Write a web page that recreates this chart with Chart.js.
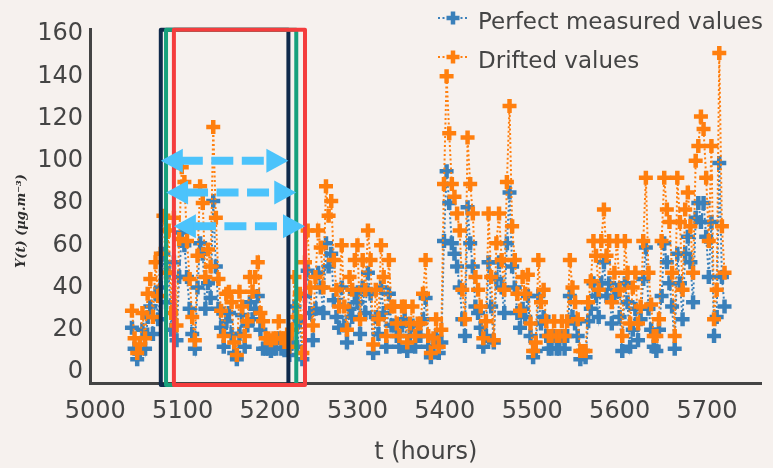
<!DOCTYPE html>
<html>
<head>
<meta charset="utf-8">
<script src="https://cdn.jsdelivr.net/npm/chart.js@4.4.1/dist/chart.umd.min.js"></script>
<style>
  html, body { margin: 0; padding: 0; background: #f6f1ee; }
  #wrap { width: 773px; height: 468px; }
</style>
</head>
<body>
<div id="wrap"><canvas id="chart" width="773" height="468"></canvas></div>
<script>
// Hourly concentration record, sampled every few hours
const START_HOUR = 5042;
const STEP_HOURS = 3;

const perfectValues = [
  21, 11, 6, 9, 20, 11, 26, 31, 18, 37,
  25, 40, 56, 33, 47, 20, 52, 15, 45, 66,
  60, 45, 30, 18, 11, 40, 61, 56, 30, 42,
  35, 81, 50, 30, 21, 12, 24, 28, 18, 9,
  6, 18, 27, 12, 22, 33, 25, 30, 36, 20,
  11, 11, 11, 10, 11, 11, 16, 11, 11, 11,
  8, 14, 31, 12, 24, 6, 36, 48, 28, 15,
  30, 47, 40, 28, 61, 50, 56, 34, 26, 21,
  40, 22, 14, 30, 26, 37, 33, 18, 40, 28,
  47, 37, 9, 26, 18, 40, 28, 12, 37, 22,
  22, 17, 12, 22, 25, 10, 17, 22, 12, 17,
  17, 25, 35, 12, 7, 12, 17, 9, 14, 62,
  95, 80, 61, 56, 50, 40, 25, 17, 78, 61,
  50, 31, 28, 21, 12, 17, 52, 31, 14, 44,
  52, 40, 28, 61, 85, 50, 40, 28, 21, 30,
  26, 36, 17, 7, 10, 36, 23, 26, 17, 11,
  11, 17, 11, 11, 17, 11, 17, 36, 26, 23,
  17, 6, 10, 7, 24, 30, 42, 36, 26, 42,
  52, 36, 42, 23, 36, 39, 26, 10, 42, 33,
  12, 20, 30, 15, 25, 44, 59, 30, 20, 12,
  10, 20, 36, 61, 52, 42, 31, 11, 56, 42,
  25, 56, 64, 52, 33, 73, 80, 71, 80, 64,
  45, 71, 17, 26, 99, 45, 31
];

const driftedValues = [
  29, 16, 9, 13, 28, 16, 37, 44, 26, 52,
  36, 56, 74, 47, 67, 28, 73, 22, 63, 97,
  90, 62, 44, 26, 15, 55, 88, 80, 45, 58,
  50, 116, 73, 44, 29, 17, 37, 38, 33, 14,
  8, 38, 31, 17, 24, 45, 38, 45, 52, 28,
  24, 16, 16, 15, 16, 16, 24, 16, 16, 16,
  12, 20, 45, 26, 37, 9, 52, 67, 40, 22,
  45, 67, 59, 40, 88, 74, 81, 53, 39, 31,
  60, 31, 20, 45, 39, 53, 60, 25, 53, 39,
  67, 53, 13, 39, 25, 60, 45, 17, 53, 31,
  31, 23, 17, 31, 31, 14, 23, 31, 17, 23,
  23, 37, 53, 17, 9, 16, 25, 12, 20, 89,
  140, 113, 89, 83, 75, 67, 39, 25, 111, 89,
  75, 45, 39, 31, 16, 24, 75, 45, 15, 61,
  75, 53, 39, 90, 126, 69, 53, 37, 29, 45,
  37, 46, 23, 10, 14, 53, 33, 39, 24, 17,
  17, 24, 17, 17, 24, 17, 24, 53, 40, 33,
  25, 10, 10, 10, 33, 43, 62, 55, 39, 62,
  77, 55, 62, 33, 47, 62, 39, 17, 62, 47,
  23, 40, 47, 23, 31, 62, 92, 47, 32, 17,
  17, 25, 62, 92, 77, 71, 47, 17, 92, 71,
  39, 77, 85, 69, 47, 100, 107, 121, 115, 92,
  62, 107, 25, 39, 151, 69, 47
];

const hours = perfectValues.map((_, i) => START_HOUR + i * STEP_HOURS);

const seriesLabels = ['Perfect measured values', 'Drifted values'];
const xTickValues = [5000, 5100, 5200, 5300, 5400, 5500, 5600, 5700];
const yTickValues = [0, 20, 40, 60, 80, 100, 120, 140, 160];

// Three shifted analysis windows (hours) and the level of their span arrows
const windowStarts = [5075, 5081, 5090];
const windowEnds = [5221, 5230, 5240];
const arrowLevels = [100, 85, 69];
const WINDOW_Y_LOW = -6.2;
const WINDOW_Y_HIGH = 162;

const BLUE = '#3a80ba';
const ORANGE = '#ff7f0e';
const WINDOW_COLORS = ['#0f2a4b', '#17a07c', '#f43d3d'];
const ARROW_COLOR = '#4cc3fb';
const TEXT_COLOR = '#444444';
const BG = '#f6f1ee';

const toPoints = (vals) => vals.map((v, i) => ({ x: hours[i], y: v }));

const background = {
  id: 'background',
  beforeDraw(chart) {
    const { ctx } = chart;
    ctx.save();
    ctx.fillStyle = BG;
    ctx.fillRect(0, 0, chart.width, chart.height);
    ctx.restore();
  }
};

const overlays = {
  id: 'overlays',
  afterDatasetsDraw(chart) {
    const { ctx } = chart;
    const xs = chart.scales.x, ys = chart.scales.y;

    // window frames
    ctx.save();
    ctx.lineWidth = 4;
    ctx.lineJoin = 'round';
    windowStarts.forEach((start, i) => {
      const x0 = xs.getPixelForValue(start);
      const x1 = xs.getPixelForValue(windowEnds[i]);
      const y0 = ys.getPixelForValue(WINDOW_Y_HIGH);
      const y1 = ys.getPixelForValue(WINDOW_Y_LOW);
      ctx.strokeStyle = WINDOW_COLORS[i];
      ctx.strokeRect(x0, y0, x1 - x0, y1 - y0);
    });
    ctx.restore();

    // dashed double-headed span arrows
    ctx.save();
    ctx.fillStyle = ARROW_COLOR;
    ctx.strokeStyle = ARROW_COLOR;
    const headLen = 22, headHalf = 12;
    windowStarts.forEach((start, i) => {
      const x0 = xs.getPixelForValue(start);
      const x1 = xs.getPixelForValue(windowEnds[i]);
      const y = ys.getPixelForValue(arrowLevels[i]);
      ctx.beginPath();
      ctx.moveTo(x0, y);
      ctx.lineTo(x0 + headLen, y - headHalf);
      ctx.lineTo(x0 + headLen, y + headHalf);
      ctx.closePath();
      ctx.fill();
      ctx.beginPath();
      ctx.moveTo(x1, y);
      ctx.lineTo(x1 - headLen, y - headHalf);
      ctx.lineTo(x1 - headLen, y + headHalf);
      ctx.closePath();
      ctx.fill();
      ctx.lineWidth = 8;
      ctx.setLineDash([22, 8.5]);
      ctx.beginPath();
      ctx.moveTo(x0 + headLen - 2, y);
      ctx.lineTo(x1 - headLen + 1, y);
      ctx.stroke();
      ctx.setLineDash([]);
    });
    ctx.restore();
  },
  afterDraw(chart) {
    const { ctx } = chart;
    ctx.save();
    // axis titles
    ctx.fillStyle = TEXT_COLOR;
    ctx.font = '24px "DejaVu Sans"';
    ctx.textAlign = 'center';
    ctx.textBaseline = 'alphabetic';
    ctx.fillText('t (hours)', (chart.chartArea.left + chart.chartArea.right) / 2, 459);

    ctx.save();
    ctx.translate(22, 221);
    ctx.rotate(-Math.PI / 2);
    ctx.fillStyle = '#2e2e2e';
    ctx.font = 'italic bold 13px "DejaVu Serif"';
    ctx.textBaseline = 'middle';
    ctx.fillText('Y(t) (μg.m⁻³)', 0, 0);
    ctx.restore();

    // legend
    const rows = [
      { color: BLUE, text: seriesLabels[0], y: 18 },
      { color: ORANGE, text: seriesLabels[1], y: 57 }
    ];
    rows.forEach(r => {
      ctx.strokeStyle = r.color;
      ctx.lineWidth = 2;
      ctx.setLineDash([2, 2.5]);
      ctx.beginPath();
      ctx.moveTo(438, r.y);
      ctx.lineTo(468, r.y);
      ctx.stroke();
      ctx.setLineDash([]);
      ctx.lineWidth = 4.5;
      ctx.beginPath();
      ctx.moveTo(446.5, r.y); ctx.lineTo(459.5, r.y);
      ctx.moveTo(453, r.y - 6.5); ctx.lineTo(453, r.y + 6.5);
      ctx.stroke();
      ctx.fillStyle = TEXT_COLOR;
      ctx.font = '23px "DejaVu Sans"';
      ctx.textAlign = 'left';
      ctx.textBaseline = 'alphabetic';
      ctx.fillText(r.text, 478, r.y + 11);
    });
    ctx.restore();
  }
};

const tickFont = { family: 'DejaVu Sans', size: 24 };

const seriesStyle = (color, order) => ({
  borderColor: color,
  backgroundColor: color,
  borderWidth: 2,
  borderDash: [2, 2.5],
  pointStyle: 'cross',
  pointRadius: 7,
  pointHoverRadius: 7,
  pointBorderWidth: 4.5,
  pointBorderColor: color,
  tension: 0,
  order
});

new Chart(document.getElementById('chart'), {
  type: 'line',
  data: {
    datasets: [
      { label: seriesLabels[0], data: toPoints(perfectValues), ...seriesStyle(BLUE, 2) },
      { label: seriesLabels[1], data: toPoints(driftedValues), ...seriesStyle(ORANGE, 1) }
    ]
  },
  options: {
    responsive: false,
    animation: false,
    devicePixelRatio: 1,
    layout: { padding: { top: 29, right: 0, bottom: 0, left: 0 } },
    plugins: { legend: { display: false }, tooltip: { enabled: false } },
    scales: {
      x: {
        type: 'linear',
        min: 4994,
        max: 5762.3,
        afterBuildTicks: s => { s.ticks = xTickValues.map(v => ({ value: v })); },
        afterFit: s => { s.height = 85; },
        ticks: {
          font: tickFont, color: TEXT_COLOR, padding: 14, maxRotation: 0, autoSkip: false,
          callback: v => String(v)
        },
        grid: { display: false, drawTicks: false },
        border: { display: true, color: '#444', width: 3 }
      },
      y: {
        min: -5.2,
        max: 162.4,
        afterBuildTicks: s => { s.ticks = yTickValues.map(v => ({ value: v })); },
        afterFit: s => { s.width = 90; },
        ticks: { font: tickFont, color: TEXT_COLOR, padding: 7, autoSkip: false, callback: v => String(v) },
        grid: { display: false, drawTicks: false },
        border: { display: true, color: '#444', width: 3 }
      }
    }
  },
  plugins: [background, overlays]
});
</script>
</body>
</html>
